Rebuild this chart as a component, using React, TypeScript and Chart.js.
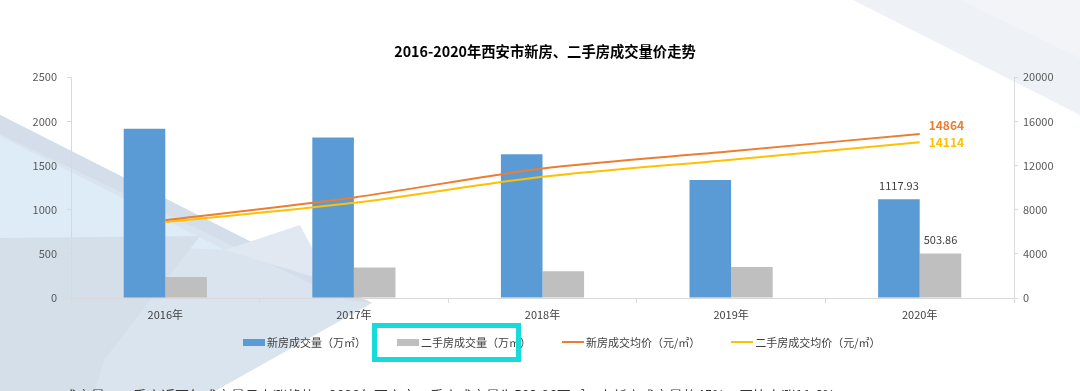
import React, { useEffect, useRef } from 'react';
import { Chart, registerables } from 'chart.js';

Chart.register(...registerables);

const FONT = "'Noto Sans CJK SC', 'Noto Sans', sans-serif";

const title = '2016-2020年西安市新房、二手房成交量价走势';
const categories = ['2016年', '2017年', '2018年', '2019年', '2020年'];
const newVolume = [1917, 1819, 1627, 1335, 1117.93];
const secondVolume = [238, 345, 303, 352, 503.86];
const newPrice = [7051, 9111, 11742, 13294, 14864];
const secondPrice = [6869, 8621, 10980, 12532, 14114];
const seriesNames = ['新房成交量（万㎡）', '二手房成交量（万㎡）', '新房成交均价（元/㎡）', '二手房成交均价（元/㎡）'];
const seriesColors = ['#5b9bd5', '#bfbfbf', '#ed7d31', '#ffc000'];
const leftMax = 2500;
const leftStep = 500;
const rightMax = 20000;
const rightStep = 4000;
const footnote = '二、成交量：二手房近两年成交量呈上涨趋势，2020年西安市二手房成交量为503.86万㎡，占新房成交量的45%，同比上涨11.6%';

const backgroundPlugin = {
  id: 'bgShapes',
  beforeDraw(chart: any) {
    const ctx = chart.ctx;
    const poly = (pts: number[][], color: string) => {
      ctx.beginPath();
      ctx.moveTo(pts[0][0], pts[0][1]);
      for (let i = 1; i < pts.length; i++) ctx.lineTo(pts[i][0], pts[i][1]);
      ctx.closePath();
      ctx.fillStyle = color;
      ctx.fill();
    };
    ctx.save();
    ctx.fillStyle = '#ffffff';
    ctx.fillRect(0, 0, chart.width, chart.height);
    // left big triangle
    poly([[0, 115], [372, 303], [215, 391], [0, 391]], '#dae4ef');
    // upper darker stripe
    poly([[0, 115], [372, 303], [345, 300], [0, 134]], '#d4deea');
    // light cyan top-left
    poly([[0, 136], [225, 250], [0, 238]], '#ddecf6');
    // faint whitish glow patch
    poly([[225, 250], [300, 225], [330, 282]], '#e1e8f1');
    // darker bottom-left
    poly([[0, 238], [200, 236], [104, 360], [95, 391], [0, 391]], '#d5dfea');
    // top-right
    poly([[853, 0], [1080, 0], [1080, 115]], '#eef1f6');
    poly([[960, 0], [1080, 0], [1080, 58]], '#f2f4f8');
    ctx.restore();
  },
};

const labelPlugin = {
  id: 'valueLabels',
  afterDatasetsDraw(chart: any) {
    const ctx = chart.ctx;
    const last = categories.length - 1;
    ctx.save();
    ctx.font = `11px ${FONT}`;
    ctx.fillStyle = '#404040';
    ctx.textAlign = 'center';
    ctx.textBaseline = 'middle';
    [0, 1].forEach((di) => {
      const el = chart.getDatasetMeta(di).data[last];
      const v = chart.data.datasets[di].data[last];
      ctx.fillText(String(v), el.x, el.y - 13.7);
    });
    ctx.font = `bold 12px ${FONT}`;
    ctx.textAlign = 'left';
    const p2 = chart.getDatasetMeta(2).data[last];
    ctx.fillStyle = seriesColors[2];
    ctx.fillText(String(chart.data.datasets[2].data[last]), p2.x + 9, p2.y - 8.3);
    const p3 = chart.getDatasetMeta(3).data[last];
    ctx.fillStyle = seriesColors[3];
    ctx.fillText(String(chart.data.datasets[3].data[last]), p3.x + 9, p3.y + 0.6);
    ctx.restore();
  },
};

export default function App() {
  const ref = useRef<HTMLCanvasElement | null>(null);

  useEffect(() => {
    if (!ref.current) return;
    Chart.defaults.font.family = FONT;
    const chart = new Chart(ref.current, {
      type: 'bar',
      data: {
        labels: categories,
        datasets: [
          {
            type: 'bar',
            label: seriesNames[0],
            data: newVolume,
            backgroundColor: seriesColors[0],
            yAxisID: 'y',
            order: 2,
            categoryPercentage: 0.441,
            barPercentage: 1,
          },
          {
            type: 'bar',
            label: seriesNames[1],
            data: secondVolume,
            backgroundColor: seriesColors[1],
            yAxisID: 'y',
            order: 2,
            categoryPercentage: 0.441,
            barPercentage: 1,
          },
          {
            type: 'line',
            label: seriesNames[2],
            data: newPrice,
            borderColor: seriesColors[2],
            backgroundColor: seriesColors[2],
            borderWidth: 2,
            pointRadius: 0,
            tension: 0.3,
            yAxisID: 'y1',
            order: 0,
          },
          {
            type: 'line',
            label: seriesNames[3],
            data: secondPrice,
            borderColor: seriesColors[3],
            backgroundColor: seriesColors[3],
            borderWidth: 2,
            pointRadius: 0,
            tension: 0.3,
            yAxisID: 'y1',
            order: 0,
          },
        ] as any,
      },
      options: {
        responsive: false,
        animation: false,
        layout: { padding: { left: 10, top: 0, right: 0, bottom: 0 } },
        plugins: {
          legend: { display: false },
          tooltip: { enabled: false },
          title: {
            display: true,
            text: title,
            color: '#000000',
            font: { size: 14.3, weight: 'bold', family: FONT, lineHeight: 1.2 },
            padding: { top: 43.1, bottom: 17 },
          },
        },
        scales: {
          x: {
            grid: { offset: true, drawOnChartArea: false, drawTicks: true, tickLength: 5, color: '#d9d9d9' },
            border: { color: '#d9d9d9' },
            ticks: { color: '#404040', font: { size: 11, family: FONT }, padding: 5, maxRotation: 0 },
            afterFit: (s: any) => { s.height = 93; },
          },
          y: {
            position: 'left',
            min: 0,
            max: leftMax,
            ticks: {
              stepSize: leftStep,
              color: '#595959',
              font: { size: 11, family: FONT },
              padding: 10,
              callback: (v: any) => String(v),
            },
            grid: { drawOnChartArea: false, tickLength: 4, color: '#d9d9d9' },
            border: { color: '#d9d9d9' },
            afterFit: (s: any) => { s.width = 61; },
          },
          y1: {
            position: 'right',
            min: 0,
            max: rightMax,
            ticks: {
              stepSize: rightStep,
              color: '#595959',
              font: { size: 11, family: FONT },
              padding: 5,
              callback: (v: any) => String(v),
            },
            grid: { drawOnChartArea: false, tickLength: 4, color: '#d9d9d9' },
            border: { color: '#d9d9d9' },
            afterFit: (s: any) => { s.width = 66; },
          },
        },
      } as any,
      plugins: [backgroundPlugin, labelPlugin],
    });
    return () => chart.destroy();
  }, []);

  const legendItem = (i: number) => {
    const isLine = i >= 2;
    return (
      <div key={i} style={{ display: 'flex', alignItems: 'center', height: 14 }}>
        <span
          style={{
            display: 'inline-block',
            width: 22,
            height: isLine ? 2 : 7,
            background: seriesColors[i],
            marginRight: 2,
          }}
        />
        <span style={{ fontSize: 11, color: '#404040', whiteSpace: 'nowrap', lineHeight: '14px' }}>{seriesNames[i]}</span>
      </div>
    );
  };

  return (
    <div style={{ position: 'absolute', left: 0, top: 0, width: 1080, height: 391, overflow: 'hidden', fontFamily: FONT, background: '#fff' }}>
      <canvas ref={ref} width={1080} height={391} style={{ position: 'absolute', left: 0, top: 0, width: 1080, height: 391 }} />
      <div style={{ position: 'absolute', left: 243, top: 335, display: 'flex', gap: 31 }}>
        {[0, 1, 2, 3].map(legendItem)}
      </div>
      <div
        style={{
          position: 'absolute',
          left: 372,
          top: 323,
          width: 149,
          height: 39,
          boxSizing: 'border-box',
          border: '5px solid #17dada',
        }}
      />
      <div
        style={{
          position: 'absolute',
          left: 35,
          top: 388,
          fontSize: 14,
          lineHeight: '14px',
          color: '#333333',
          whiteSpace: 'nowrap',
        }}
      >
        {footnote}
      </div>
    </div>
  );
}
